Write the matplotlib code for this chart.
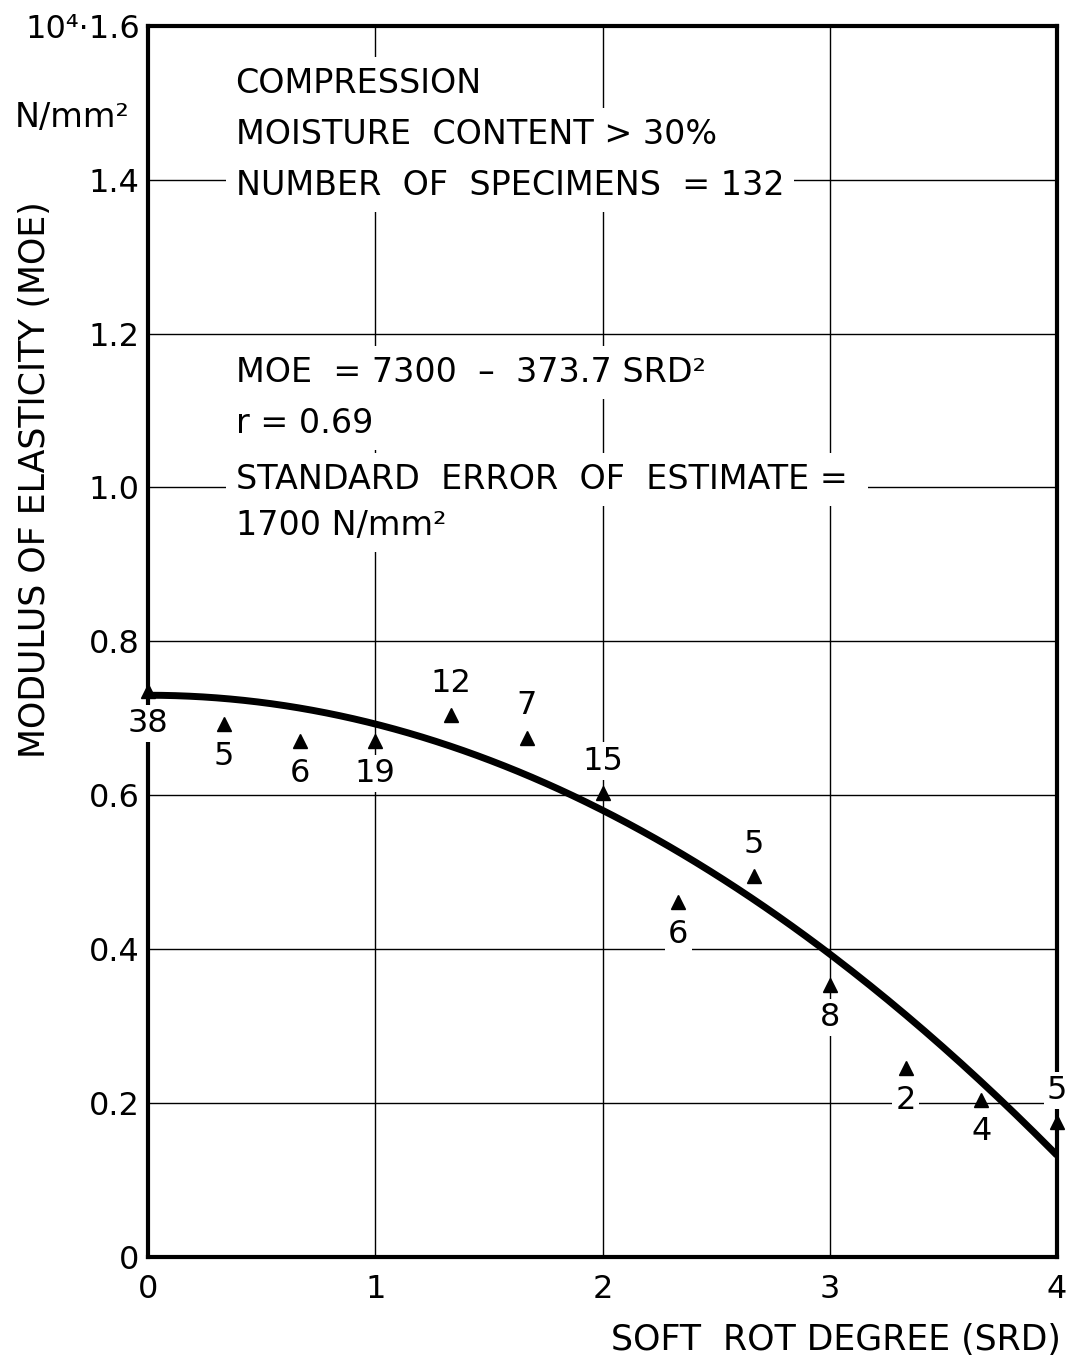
import matplotlib.pyplot as plt
import numpy as np

# soft rot degree classes and mean MOE (x 10^4 N/mm^2)
srd = [0, 1/3, 2/3, 1, 4/3, 5/3, 2, 7/3, 8/3, 3, 10/3, 11/3, 4]
moe = [0.735, 0.692, 0.670, 0.670, 0.704, 0.675, 0.603, 0.461, 0.495, 0.353, 0.245, 0.204, 0.175]
n_spec = [38, 5, 6, 19, 12, 7, 15, 6, 5, 8, 2, 4, 5]

# regression MOE = a - b * SRD^2 (N/mm^2)
fit_a = 7300
fit_b = 373.7

yticks = [0, 0.2, 0.4, 0.6, 0.8, 1.0, 1.2, 1.4, 1.6]
ytick_labels = ["0", "0.2", "0.4", "0.6", "0.8", "1.0", "1.2", "1.4", "10\u2074\u00b71.6"]
xticks = [0, 1, 2, 3, 4]

plt.rcParams['font.family'] = ['DejaVu Sans']
FS = 24

fig = plt.figure(figsize=(10.68, 13.59), dpi=100)
ax = fig.add_axes([0.1386, 0.0751, 0.8511, 0.9059])

ax.set_xlim(0, 4)
ax.set_ylim(0, 1.6)
ax.set_xticks(xticks)
ax.set_xticklabels([str(t) for t in xticks], fontsize=23)
ax.set_yticks(yticks)
ax.set_yticklabels(ytick_labels, fontsize=23)
ax.tick_params(axis="x", length=0, pad=12)
ax.tick_params(axis="y", length=0, pad=6)
ax.grid(True, color="black", linewidth=1.0)
ax.set_axisbelow(True)
for s in ax.spines.values():
    s.set_linewidth(3)
    s.set_zorder(2.5)

xs = np.linspace(0, 4, 200)
ax.plot(xs, (fit_a - fit_b * xs**2) / 1e4, color="black", linewidth=5, zorder=4,
        solid_capstyle="butt")
ax.plot(srd, moe, linestyle="none", marker="^", color="black", markersize=10,
        zorder=5, clip_on=False)

# label side: +1 above the marker, -1 below
side = [-1, -1, -1, -1, 1, 1, 1, -1, 1, -1, -1, -1, 1]
for x, y, n, s in zip(srd, moe, n_spec, side):
    ax.annotate(str(n), (x, y), xytext=(0, 23 * s), textcoords="offset points",
                ha="center", va="center", fontsize=23, zorder=6, annotation_clip=False,
                bbox=dict(boxstyle="square,pad=0.1", fc="white", ec="none"))

box = dict(boxstyle="square,pad=0.3", fc="white", ec="none")
lines1 = ["COMPRESSION", "MOISTURE  CONTENT > 30%", "NUMBER  OF  SPECIMENS  = 132"]
for i, t in enumerate(lines1):
    ax.text(0.385, 1.525 - i * 0.066, t, fontsize=FS, ha="left", va="center",
            bbox=box, zorder=3)
lines2 = ["MOE  = 7300  \u2013  373.7 SRD\u00b2", "r = 0.69",
          "STANDARD  ERROR  OF  ESTIMATE = ", "1700 N/mm\u00b2"]
ys2 = [1.149, 1.083, 1.011, 0.950]
for t, y in zip(lines2, ys2):
    ax.text(0.385, y, t, fontsize=FS, ha="left", va="center", bbox=box, zorder=3)

fig.text(0.068, 1 - 118 / 1359, "N/mm\u00b2", fontsize=FS, ha="center", va="center")
fig.text(0.033, 1 - 480 / 1359, "MODULUS OF ELASTICITY (MOE)", fontsize=25,
         rotation=90, ha="center", va="center")
fig.text(0.993, 1 - 1340 / 1359, "SOFT  ROT DEGREE (SRD)", fontsize=25,
         ha="right", va="center")

fig.savefig("out.png", dpi=100, facecolor="white")
